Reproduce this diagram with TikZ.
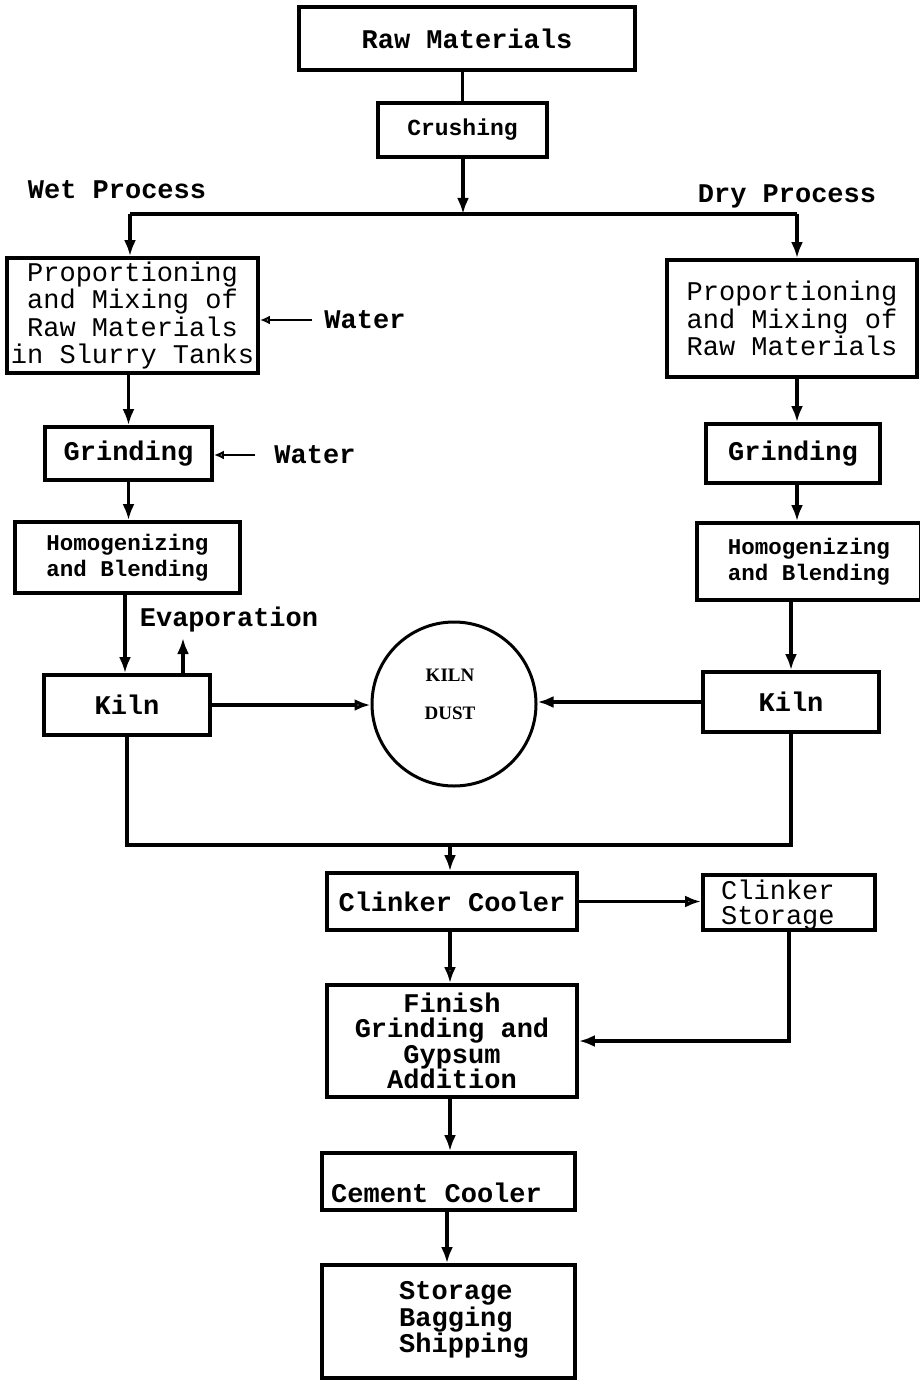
\documentclass[tikz,border=0pt]{standalone}
\usepackage{fontspec}
\newfontfamily\cour{Liberation Mono}
\newfontfamily\kilnfont{Liberation Serif}
\usetikzlibrary{arrows.meta}
\begin{document}
\begin{tikzpicture}[x=1pt,y=-1pt,
  box/.style={draw, line width=3.8pt, inner sep=0pt, align=center,
    font=\cour\bfseries\fontsize{27}{27.5}\selectfont},
  mixbox/.style={box, font=\cour\fontsize{27}{27.5}\selectfont},
  smallbox/.style={box, font=\cour\bfseries\fontsize{22.5}{26}\selectfont},
  lbl/.style={inner sep=0pt, font=\cour\bfseries\fontsize{27}{27.5}\selectfont},
  conn/.style={line width=3.2pt},
  arr/.style={conn, -{Latex[length=16pt,width=12pt]}},
  oarr/.style={conn, -{Latex[open,length=16pt,width=12pt]}},
  warr/.style={line width=2.6pt, -{Latex[open,length=10pt,width=9pt]}},
]
\useasboundingbox (0,0) rectangle (919,1380);

% ---- top of the flow ----
\node[box, minimum width=336, minimum height=63] (raw) at (467,38.5) {Raw Materials};
\node[box, minimum width=169, minimum height=54,
      font=\cour\bfseries\fontsize{23}{24}\selectfont] (crush) at (462.5,130) {Crushing};
\draw[conn] (raw.south -| crush.north) -- (crush.north);

\node[lbl] (wetlbl) at (117,190) {Wet Process};
\node[lbl] (drylbl) at (787,196) {Dry Process};

\coordinate (split) at (463,214);
\coordinate (splitW) at (130,214);
\coordinate (splitE) at (797,214);
\draw[arr] (crush.south -| split) -- (split);
\draw[conn] (splitW) -- (splitE);

% ---- wet process column ----
\node[mixbox, minimum width=251, minimum height=115] (wetmix) at (132.5,315.5)
  {Proportioning\\and Mixing of\\Raw Materials\\in Slurry Tanks};
\node[box, minimum width=167, minimum height=53] (wetgrind) at (128.5,453.5) {Grinding};
\node[smallbox, minimum width=225, minimum height=71] (wethom) at (127.5,557.5)
  {Homogenizing\\and Blending};
\node[box, minimum width=166, minimum height=60] (wetkiln) at (127,705) {Kiln};

\draw[arr] (splitW) -- (splitW |- wetmix.north);
\draw[arr] (wetmix.south -| wetgrind.north) -- (wetgrind.north);
\draw[arr] (wetgrind.south) -- (wetgrind.south |- wethom.north);
\draw[arr] (wethom.south -| 125,0) -- (wetkiln.north -| 125,0);

\node[lbl] (water1) at (365,320) {Water};
\draw[warr, shorten <=12pt] (water1.west) -- (wetmix.east |- water1.west);
\node[lbl] (water2) at (315,455) {Water};
\draw[warr, shorten <=19pt] (water2.west) -- (wetgrind.east |- water2.west);

\node[lbl] (evap) at (229,620) {Evaporation};
\coordinate (evaptip) at (183,638);
\draw[arr] (wetkiln.north -| evaptip) -- (evaptip);

% ---- dry process column ----
\node[mixbox, minimum width=250, minimum height=117] (drymix) at (792,318.5)
  {Proportioning\\and Mixing of\\Raw Materials};
\node[box, minimum width=174, minimum height=59] (drygrind) at (793,453.5) {Grinding};
\node[smallbox, minimum width=224, minimum height=77] (dryhom) at (809,561.5)
  {Homogenizing\\and Blending};
\node[box, minimum width=176, minimum height=60] (drykiln) at (791,702) {Kiln};

\draw[arr] (splitE) -- (splitE |- drymix.north);
\draw[arr] (drymix.south -| splitE) -- (drygrind.north -| splitE);
\draw[arr] (drygrind.south -| splitE) -- (dryhom.north -| splitE);
\draw[arr] (dryhom.south -| drykiln.north) -- (drykiln.north);

% ---- kiln dust ----
\node[circle, draw, line width=3pt, minimum size=164, inner sep=0pt] (dust) at (454,704) {};
\node[inner sep=0pt, align=center, font=\kilnfont\bfseries\fontsize{19}{38}\selectfont]
  (dusttxt) at (450,694) {KILN\\DUST};
\draw[oarr] (wetkiln.east) -- (dust.west |- wetkiln.east);
\draw[arr] (drykiln.west) -- (dust.east |- drykiln.west);

% ---- both kilns to the cooler ----
\coordinate (merge) at (450,845);
\draw[conn] (wetkiln.south) |- (merge) -| (drykiln.south);

\node[box, minimum width=250, minimum height=57] (clink) at (452,901.5) {Clinker Cooler};
\node[box, minimum width=172, minimum height=55] (store) at (789,902.5) {};
\node[inner sep=0pt, anchor=west, align=left,
      font=\cour\fontsize{27}{25}\selectfont] (storetxt) at (721,905) {Clinker\\Storage};
\draw[arr] (merge) -- (merge |- clink.north);
\draw[oarr] (clink.east) -- (store.west |- clink.east);

\node[box, minimum width=250, minimum height=112,
      font=\cour\bfseries\fontsize{27}{25.5}\selectfont] (finish) at (452,1041)
  {Finish\\Grinding and\\Gypsum\\Addition};
\draw[oarr] (clink.south -| merge) -- (finish.north -| merge);
\draw[arr] (store.south) |- (finish.east);

\node[box, minimum width=253, minimum height=57] (cement) at (448.5,1181.5) {};
\node[lbl, anchor=west] (cementtxt) at (331,1193) {Cement Cooler};
\draw[arr] (finish.south -| merge) -- (cement.north -| merge);

\node[box, minimum width=253, minimum height=113] (ship) at (448.5,1321.5) {};
\node[inner sep=0pt, anchor=west, align=left,
      font=\cour\bfseries\fontsize{27}{25}\selectfont] (shiptxt) at (399,1320)
  {Storage\\Bagging\\Shipping};
\draw[arr] (cement.south -| 447,0) -- (ship.north -| 447,0);
\end{tikzpicture}
\end{document}
